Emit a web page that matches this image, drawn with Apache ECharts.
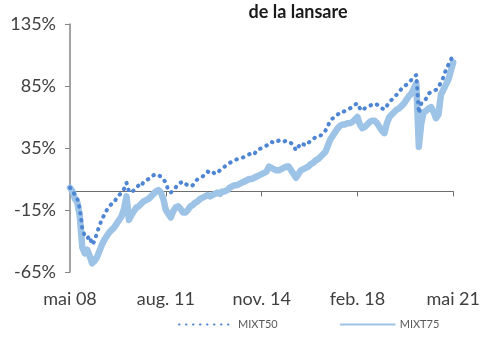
<!DOCTYPE html>
<html>
<head>
<meta charset="utf-8">
<script src="https://cdn.jsdelivr.net/npm/echarts@6/dist/echarts.min.js"></script>
<style>
  html, body { margin: 0; padding: 0; background: #fff; }
  #chart { width: 483px; height: 338px; }
</style>
</head>
<body>
<div id="chart"></div>
<script>
// Monthly points, May 2008 .. May 2021
const monthNames = ['ian.', 'feb.', 'mar.', 'apr.', 'mai', 'iun.', 'iul.', 'aug.', 'sep.', 'oct.', 'nov.', 'dec.'];
const startYear = 2008;
const startMonth = 4; // May
const monthCount = 157;

const categories = [];
for (let i = 0; i < monthCount; i++) {
  const m = (startMonth + i) % 12;
  const y = startYear + Math.floor((startMonth + i) / 12);
  categories.push(monthNames[m] + ' ' + String(y % 100).padStart(2, '0'));
}

// Cumulative return since launch, %
const mixt50 = [
  3, 1, -3, -6, -14, -30, -36, -38, -36, -43,
  -40, -33, -28, -22, -19, -15, -12, -10, -9, -5,
  -3, -1, 2, 7, 0, -1, 1, 3, 5, 4,
  8, 9, 10, 12, 13, 14, 13, 12, 10, 7,
  1, -1, 1, 3, 6, 7, 8, 6, 5, 4,
  5, 8, 10, 11, 12, 14, 16, 15, 16, 14,
  15, 17, 19, 20, 22, 23, 24, 25, 26, 27,
  27, 28, 29, 30, 31, 30, 33, 34, 35, 36,
  37, 38, 40, 39, 40, 41, 41, 40, 41, 40,
  39, 37, 33, 36, 39, 38, 37, 39, 41, 42,
  44, 45, 45, 47, 49, 53, 57, 59, 60, 62,
  64, 64, 65, 66, 67, 68, 70, 71, 67, 65,
  67, 68, 69, 70, 71, 70, 68, 67, 66, 69,
  72, 74, 76, 78, 80, 83, 85, 86, 88, 90,
  92, 94, 63, 71, 72, 75, 79, 80, 81, 82,
  84, 88, 92, 98, 102, 106, 110
];

const mixt75 = [
  3, 0, -6, -9, -20, -45, -50, -47, -52, -58,
  -56, -53, -48, -43, -39, -36, -33, -31, -29, -26,
  -23, -20, -14, -4, -23, -19, -16, -13, -12, -10,
  -8, -7, -6, -4, -2, 0, 1, -1, -6, -15,
  -18, -21, -16, -13, -12, -14, -17, -17, -15, -12,
  -11, -9, -8, -6, -5, -4, -3, -4, -3, -2,
  -1, -2, 0, 0, 1, 3, 4, 5, 5, 6,
  7, 8, 9, 10, 10, 11, 12, 13, 14, 15,
  16, 20, 19, 18, 17, 17, 18, 19, 20, 20,
  17, 14, 11, 14, 17, 18, 19, 20, 22, 23,
  25, 26, 28, 30, 32, 37, 42, 45, 48, 51,
  53, 54, 54, 55, 55, 56, 58, 60, 54, 51,
  52, 54, 56, 57, 57, 55, 52, 49, 47, 55,
  60, 62, 64, 66, 67, 69, 71, 74, 77, 79,
  83, 87, 36, 55, 64, 65, 67, 68, 64, 59,
  62, 78, 82, 86, 90, 97, 104
];

const yTicks = [-65, -15, 35, 85, 135];
const labelEvery = 39;

const axisGray = '#868686';
const textColor = '#404040';

const chart = echarts.init(document.getElementById('chart'), null, { renderer: 'canvas' });
chart.setOption({
  animation: false,
  title: {
    text: 'de la lansare',
    left: 293,
    textAlign: 'center',
    top: -2,
    textStyle: { fontFamily: 'Lato', fontWeight: 'bold', fontSize: 18, color: '#1a1a1a' }
  },
  legend: {
    bottom: 3,
    left: 173,
    itemWidth: 54,
    itemHeight: 8,
    itemGap: 62,
    itemStyle: { opacity: 0 },
    textStyle: { fontFamily: 'Lato', fontSize: 11, color: '#595959' },
    data: ['MIXT50', 'MIXT75']
  },
  grid: { left: 70, right: 28, top: 24, bottom: 66 },
  xAxis: [
    {
      type: 'category',
      position: 'top',
      data: categories,
      boundaryGap: false,
      axisLine: { onZero: true, lineStyle: { color: '#6e6e6e', width: 1 } },
      axisTick: { show: true, inside: true, length: 5, interval: labelEvery - 1, lineStyle: { color: '#6e6e6e' } },
      axisLabel: { show: false },
      splitLine: { show: false }
    },
    {
      type: 'category',
      position: 'bottom',
      data: categories,
      boundaryGap: false,
      axisLine: { show: false, onZero: false },
      axisTick: { show: false },
      axisLabel: {
        interval: labelEvery - 1,
        margin: 18,
        fontFamily: 'Lato',
        fontSize: 18,
        color: textColor
      },
      splitLine: { show: false }
    }
  ],
  yAxis: {
    type: 'value',
    min: -65,
    max: 135,
    axisLine: { show: true, onZero: false, lineStyle: { color: axisGray, width: 1.5 } },
    axisTick: { show: true, length: 5, customValues: yTicks, lineStyle: { color: axisGray } },
    axisLabel: {
      customValues: yTicks,
      formatter: v => v + '%',
      margin: 14,
      fontFamily: 'Lato',
      fontSize: 18,
      color: textColor
    },
    splitLine: { show: false }
  },
  series: [
    {
      name: 'MIXT75',
      type: 'line',
      xAxisIndex: 0,
      data: mixt75,
      showSymbol: false,
      symbol: 'none',
      z: 2,
      itemStyle: { color: '#9dc3e6' },
      lineStyle: { color: '#9dc3e6', width: 6.5, cap: 'round', join: 'round' }
    },
    {
      name: 'MIXT50',
      type: 'line',
      xAxisIndex: 0,
      data: mixt50,
      showSymbol: false,
      symbol: 'none',
      z: 3,
      itemStyle: { color: '#4f86d4' },
      lineStyle: { color: '#4f86d4', width: 4, type: [0.5, 6.5], cap: 'round' }
    }
  ]
});
</script>
</body>
</html>
